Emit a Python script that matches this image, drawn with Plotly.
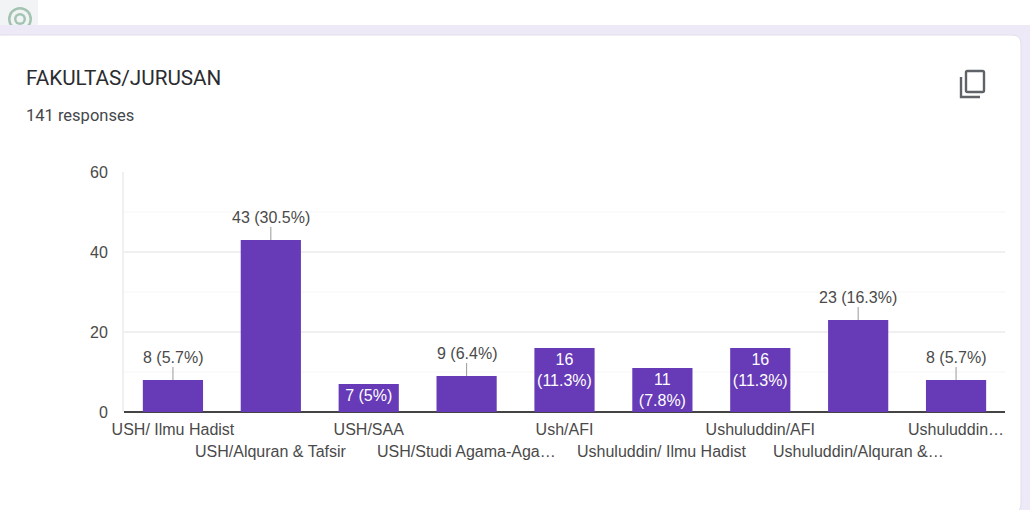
import plotly.graph_objects as go

title = "FAKULTAS/JURUSAN"
subtitle = "141 responses"
categories = ["USH/ Ilmu Hadist", "USH/Alquran & Tafsir", "USH/SAA", "USH/Studi Agama-Aga…", "Ush/AFI",
              "Ushuluddin/ Ilmu Hadist", "Ushuluddin/AFI", "Ushuluddin/Alquran &…", "Ushuluddin…"]
values = [8, 43, 7, 9, 16, 11, 16, 23, 8]
percents = ["5.7%", "30.5%", "5%", "6.4%", "11.3%", "7.8%", "11.3%", "16.3%", "5.7%"]
label_inside = [False, False, True, False, True, True, True, False, False]
two_line_inside = [False, False, False, False, True, True, True, False, False]
y_ticks = [0, 20, 40, 60]
y_minor_ticks = [10, 30, 50]

W, H = 1030, 510
ML, MR, MT, MB = 124, 25, 172, 98
PW, PH = W - ML - MR, H - MT - MB
PURPLE = "#673ab7"
ARIAL = "Liberation Sans, Arial, sans-serif"
ROBOTO = "Roboto, Arial, sans-serif"
TEXT = "#4a4a4a"


def px(x):
    return (x - ML) / PW


def py(y):
    return 1 - (y - MT) / PH


def pshape(kind, x0, y0, x1, y1, **kw):
    return dict(type=kind, xref="paper", yref="paper", x0=px(x0), x1=px(x1), y0=py(y0), y1=py(y1), **kw)


def ppath(points, **kw):
    d = " ".join(f"{c}{px(x):.5f},{py(y):.5f}" if c != "Z" else "Z" for c, x, y in points)
    return dict(type="path", xref="paper", yref="paper", path=d, **kw)


def round_rect(x0, y0, x1, y1, r):
    def P(x, y):
        return f"{px(x):.5f},{py(y):.5f}"
    return (f"M{P(x0 + r, y0)} L{P(x1 - r, y0)} Q{P(x1, y0)} {P(x1, y0 + r)} L{P(x1, y1 - r)} "
            f"Q{P(x1, y1)} {P(x1 - r, y1)} L{P(x0 + r, y1)} Q{P(x0, y1)} {P(x0, y1 - r)} "
            f"L{P(x0, y0 + r)} Q{P(x0, y0)} {P(x0 + r, y0)} Z")


bar_text = []
for v, p, inside, two in zip(values, percents, label_inside, two_line_inside):
    if not inside:
        bar_text.append("")
    elif two:
        bar_text.append(f"{v}<br>({p})")
    else:
        bar_text.append(f"{v} ({p})")

fig = go.Figure(go.Bar(
    x=categories, y=values, marker=dict(color=PURPLE, line=dict(width=0)), width=0.615,
    text=bar_text, textposition="inside", insidetextanchor="end", textangle=0,
    constraintext="none", cliponaxis=False,
    insidetextfont=dict(family=ARIAL, size=16, color="#ffffff"), hoverinfo="skip",
))

annotations = [
    dict(xref="paper", yref="paper", x=px(24), y=py(78), text=title, showarrow=False, xanchor="left",
         yanchor="middle", font=dict(family=ROBOTO, size=20.7, color="#2b2c30")),
    dict(xref="paper", yref="paper", x=px(24), y=py(115.5), text=subtitle, showarrow=False, xanchor="left",
         yanchor="middle", font=dict(family=ROBOTO, size=16.5, color="#44474b")),
]
for i, (c, v, p, inside) in enumerate(zip(categories, values, percents, label_inside)):
    if not inside:
        annotations.append(dict(x=c, y=v, xref="x", yref="y", text=f"{v} ({p})", showarrow=True, arrowhead=0,
                                arrowwidth=1, arrowcolor="#999999", ax=0, ay=-23, standoff=0,
                                font=dict(family=ARIAL, size=16, color=TEXT)))
    if i % 2 == 1:
        annotations.append(dict(x=c, xref="x", yref="paper", y=0, yshift=-39, yanchor="middle", text=c,
                                showarrow=False, font=dict(family=ARIAL, size=16, color=TEXT)))

shapes = [
    pshape("rect", -5, -5, 1040, 520, fillcolor="#ffffff", line_width=0, layer="below"),
    pshape("rect", 0, 0, 38, 25, fillcolor="#f1f3f4", line_width=0, layer="below"),
    pshape("circle", 8, 7, 32, 31, fillcolor="#a3c4b2", line_width=0, layer="below"),
    pshape("circle", 10.5, 9.5, 29.5, 28.5, fillcolor="#f1f3f4", line_width=0, layer="below"),
    pshape("circle", 14, 13, 26, 25, fillcolor="#a3c4b2", line_width=0, layer="below"),
    pshape("circle", 16.5, 15.5, 23.5, 22.5, fillcolor="#f1f3f4", line_width=0, layer="below"),
    pshape("rect", 0, 25, 1040, 520, fillcolor="#ede9f7", line_width=0, layer="below"),
    dict(type="path", xref="paper", yref="paper", path=round_rect(-8, 35, 1021, 513, 9),
         fillcolor="#ffffff", line=dict(color="#e2deea", width=1), layer="below"),
    dict(type="path", xref="paper", yref="paper", path=round_rect(966, 71, 984, 92, 1.5),
         fillcolor="rgba(0,0,0,0)", line=dict(color="#5f6368", width=2.4)),
    ppath([("M", 961, 77), ("L", 961, 97), ("L", 980, 97)], line=dict(color="#5f6368", width=2.4)),
]

fig.update_layout(
    width=W, height=H, autosize=False, margin=dict(l=ML, r=MR, t=MT, b=MB, pad=0),
    paper_bgcolor="#ffffff", plot_bgcolor="rgba(0,0,0,0)", showlegend=False, bargap=0.39,
    annotations=annotations, shapes=shapes,
    xaxis=dict(type="category", categoryorder="array", categoryarray=categories, tickmode="array",
               tickvals=categories,
               ticktext=[c if i % 2 == 0 else "" for i, c in enumerate(categories)],
               tickangle=0, ticks="", ticklabelstandoff=6, showgrid=False, showline=False, zeroline=False,
               tickfont=dict(family=ARIAL, size=16, color=TEXT), automargin=False),
    yaxis=dict(range=[0, 60], tickmode="array", tickvals=y_ticks, ticks="", showgrid=True, gridcolor="#f0f0f0",
               gridwidth=2, zeroline=True, zerolinecolor="#444444", zerolinewidth=1.5, showline=True,
               minor=dict(tickmode="array", tickvals=y_minor_ticks, showgrid=True, gridcolor="#fafafa",
                          gridwidth=2, ticks=""),
               linecolor="#f0f0f0", linewidth=2, ticklabelstandoff=11,
               tickfont=dict(family=ARIAL, size=16, color=TEXT), automargin=False),
)

fig.write_html("out.html", config={"displayModeBar": False},
               post_script="document.body.style.margin='0';document.documentElement.style.overflow='hidden';")
